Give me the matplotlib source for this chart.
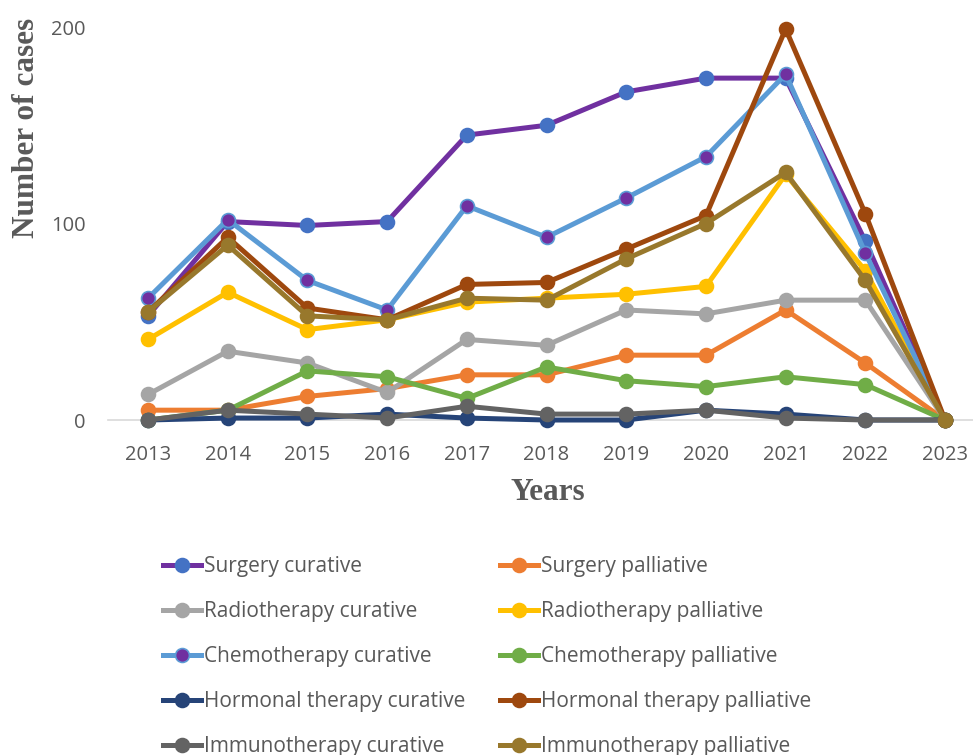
import matplotlib
matplotlib.use('Agg')
import matplotlib.pyplot as plt

# ===== Data =====
years = [2013, 2014, 2015, 2016, 2017, 2018, 2019, 2020, 2021, 2022, 2023]

surgery_cur = [53, 101, 99, 101, 145, 150, 167, 174, 174, 91, 0]
surgery_pal = [5, 5, 12, 16, 23, 23, 33, 33, 56, 29, 0]
radio_cur = [13, 35, 29, 14, 41, 38, 56, 54, 61, 61, 0]
radio_pal = [41, 65, 46, 51, 60, 62, 64, 68, 125, 76, 0]
chemo_cur = [62, 102, 71, 56, 109, 93, 113, 134, 176, 85, 0]
chemo_pal = [0, 5, 25, 22, 11, 27, 20, 17, 22, 18, 0]
hormonal_cur = [0, 1, 1, 3, 1, 0, 0, 5, 3, 0, 0]
hormonal_pal = [55, 93, 57, 51, 69, 70, 87, 104, 199, 105, 0]
immuno_cur = [0, 5, 3, 1, 7, 3, 3, 5, 1, 0, 0]
immuno_pal = [55, 89, 53, 51, 62, 61, 82, 100, 126, 71, 0]

# (label, values, line colour, marker face, marker edge)
series = [
    ("Surgery curative", surgery_cur, "#7030A0", "#4472C4", "#4472C4"),
    ("Surgery palliative", surgery_pal, "#ED7D31", "#ED7D31", "#ED7D31"),
    ("Radiotherapy curative", radio_cur, "#A5A5A5", "#A5A5A5", "#A5A5A5"),
    ("Radiotherapy palliative", radio_pal, "#FFC000", "#FFC000", "#FFC000"),
    ("Chemotherapy curative", chemo_cur, "#5B9BD5", "#7030A0", "#5B9BD5"),
    ("Chemotherapy palliative", chemo_pal, "#70AD47", "#70AD47", "#70AD47"),
    ("Hormonal therapy curative", hormonal_cur, "#264478", "#264478", "#264478"),
    ("Hormonal therapy palliative", hormonal_pal, "#9E480E", "#9E480E", "#9E480E"),
    ("Immunotherapy curative", immuno_cur, "#636363", "#636363", "#636363"),
    ("Immunotherapy palliative", immuno_pal, "#98782C", "#98782C", "#98782C"),
]

TXT = "#595959"
plt.rcParams['font.family'] = ['Open Sans', 'DejaVu Sans']

# ===== Plot =====
fig = plt.figure(figsize=(9.73, 7.55), dpi=100)
ax = fig.add_axes([0.1112, 0.4437, 0.901, 0.5205])

handles = []
for i, (lab, vals, lc, mf, me) in enumerate(series):
    h, = ax.plot(years, vals, color=lc, lw=3.6, marker='o', markersize=10,
                 markerfacecolor=mf, markeredgecolor=me, markeredgewidth=1.2,
                 label=lab, zorder=3 + i, clip_on=False, solid_joinstyle='round')
    handles.append(h)

ax.set_xlim(2012.5, 2023.5)
ax.set_ylim(0, 200)
ax.set_xticks(years)
ax.set_xticklabels([str(y) for y in years])
ax.set_yticks([0, 100, 200])
for s in ['top', 'right', 'left']:
    ax.spines[s].set_visible(False)
ax.spines['bottom'].set_color('#D9D9D9')
ax.spines['bottom'].set_linewidth(1.2)
ax.spines['bottom'].set_zorder(1)
ax.tick_params(axis='both', length=0, labelsize=14.5, labelcolor=TXT)
ax.tick_params(axis='x', pad=18)
ax.tick_params(axis='y', pad=16)

fig.text(27 / 973, 0.831, "Number of cases", rotation=90, ha='center', va='center',
         family='Liberation Serif', weight='bold', fontsize=22.5, color=TXT)
fig.text(548 / 973, 1 - 492 / 755, "Years", ha='center', va='center',
         family='Liberation Serif', weight='bold', fontsize=22.5, color=TXT)

# two legend columns pinned separately
kw = dict(loc='upper left', frameon=False, fontsize=15, labelcolor=TXT,
          handlelength=1.8, handletextpad=0.15, labelspacing=1.15,
          borderpad=0, borderaxespad=0, numpoints=1)
fig.legend(handles[0::2], [s[0] for s in series[0::2]],
           bbox_to_anchor=(163 / 973, 1 - 556 / 755), **kw)
fig.legend(handles[1::2], [s[0] for s in series[1::2]],
           bbox_to_anchor=(500 / 973, 1 - 556 / 755), **kw)

fig.savefig("out.png", dpi=100)
